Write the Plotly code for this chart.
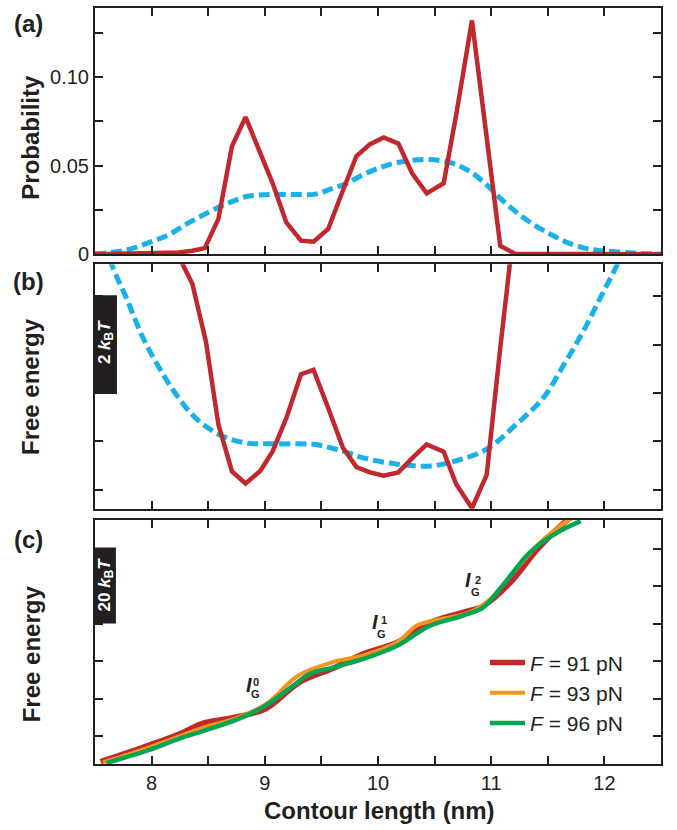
import plotly.graph_objects as go

# ---------------- data ----------------
# (a) probability
x_prob_red = [7.5, 8.12, 8.24, 8.36, 8.47, 8.59, 8.71, 8.83, 8.95, 9.07, 9.19, 9.32, 9.43, 9.56,
              9.69, 9.81, 9.93, 10.05, 10.18, 10.30, 10.43, 10.58, 10.69, 10.83, 10.96, 11.08,
              11.21, 12.5]
y_prob_red = [0.0, 0.0005, 0.001, 0.002, 0.0035, 0.020, 0.061, 0.0774, 0.058, 0.040, 0.018, 0.0077,
              0.0071, 0.0143, 0.036, 0.0555, 0.0622, 0.066, 0.0625, 0.0459, 0.0344, 0.0401, 0.0784,
              0.132, 0.066, 0.0048, 0.0004, 0.0]

x_prob_blue = [7.5, 7.75, 7.98, 8.15, 8.31, 8.45, 8.6, 8.72, 8.83, 8.95, 9.06, 9.25, 9.45, 9.58,
               9.72, 9.87, 10.02, 10.16, 10.3, 10.43, 10.56, 10.69, 10.83, 10.96, 11.09, 11.22,
               11.37, 11.52, 11.66, 11.81, 11.95, 12.1, 12.3, 12.5]
y_prob_blue = [0.0003, 0.002, 0.0067, 0.011, 0.0172, 0.022, 0.0268, 0.030, 0.0325, 0.0335, 0.0338,
               0.0338, 0.0340, 0.0368, 0.040, 0.045, 0.049, 0.0516, 0.053, 0.0535, 0.0528, 0.0507,
               0.046, 0.0392, 0.031, 0.0239, 0.017, 0.0115, 0.007, 0.0038, 0.0022, 0.0015, 0.0005,
               0.0002]

# (b) free energy (kBT)
x_fe_red = [8.12, 8.24, 8.36, 8.48, 8.59, 8.71, 8.83, 8.96, 9.07, 9.19, 9.32, 9.43, 9.56, 9.69,
            9.81, 9.93, 10.05, 10.18, 10.30, 10.43, 10.58, 10.69, 10.83, 10.96, 11.08, 11.21]
y_fe_red = [6.2, 4.82, 4.26, 3.06, 1.35, 0.38, 0.13, 0.39, 0.80, 1.48, 2.39, 2.48, 1.69, 0.87,
            0.47, 0.36, 0.29, 0.36, 0.65, 0.94, 0.79, 0.12, -0.38, 0.31, 2.93, 5.6]

x_fe_blue = [7.55, 7.65, 7.78, 7.92, 8.07, 8.22, 8.39, 8.6, 8.83, 9.07, 9.43, 9.58, 9.72, 9.87,
             10.17, 10.46, 10.69, 10.96, 11.22, 11.46, 11.64, 11.81, 11.96, 12.11, 12.25]
y_fe_blue = [5.4, 4.64, 3.95, 3.16, 2.51, 1.96, 1.48, 1.14, 0.97, 0.95, 0.94, 0.87, 0.78, 0.66,
             0.53, 0.49, 0.60, 0.84, 1.35, 1.90, 2.58, 3.26, 3.95, 4.64, 5.4]

# (c) free-energy profiles at three forces
x_c91 = [7.55, 7.98, 8.25, 8.45, 8.72, 9.01, 9.31, 9.60, 9.87, 10.17, 10.46, 10.75, 10.93, 11.17,
         11.41, 11.64, 11.72]
y_c91 = [-6.8, -2.4, 0.6, 3.4, 4.9, 7.3, 14.4, 18.0, 21.9, 25.0, 30.3, 33.0, 34.7, 40.9, 49.8,
         56.8, 58.5]

x_c93 = [7.57, 7.98, 8.25, 8.48, 8.75, 9.01, 9.30, 9.60, 9.87, 10.17, 10.34, 10.49, 10.81, 10.99,
         11.22, 11.46, 11.70]
y_c93 = [-7.0, -3.0, 0.0, 2.5, 4.8, 8.5, 16.2, 19.7, 21.5, 25.0, 29.4, 30.8, 33.0, 36.5, 44.5,
         52.4, 58.0]

x_c96 = [7.60, 7.98, 8.25, 8.48, 8.78, 9.01, 9.22, 9.40, 9.62, 9.87, 10.17, 10.46, 10.75, 10.93,
         11.10, 11.34, 11.58, 11.79]
y_c96 = [-7.2, -3.7, -0.6, 1.6, 4.7, 8.2, 12.7, 16.6, 18.4, 20.6, 24.1, 29.4, 32.1, 34.3, 40.1,
         48.9, 54.2, 57.3]

legend_names = ["<i>F</i> = 91 pN", "<i>F</i> = 93 pN", "<i>F</i> = 96 pN"]

x_ticks = [8, 9, 10, 11, 12]
x_ticktext = ["8", "9", "10", "11", "12"]
x_minor = [8.5, 9.5, 10.5, 11.5]
ya_ticks = [0, 0.05, 0.10]
ya_ticktext = ["0", "0.05", "0.10"]
ya_minor = [0.025, 0.075, 0.125]
yb_ticks = [0, 1, 2, 3, 4]
yc_ticks = [0, 10, 20, 30, 40, 50]

# ---------------- style ----------------
INK = "#231f20"
RED = "#c1272d"
BLUE = "#1ab0ea"
ORANGE = "#f7941d"
GREEN = "#00a651"
FONT = "Liberation Sans, Arial, Helvetica, sans-serif"

W, H = 677, 830
PL, PR, PT, PB = 95, 661, 6, 764


def px(x):
    return (x - PL) / (PR - PL)


def py(y):
    return (PB - y) / (PB - PT)


fig = go.Figure()

dash = "11px,5px"
# panel a
fig.add_trace(go.Scatter(x=x_prob_blue, y=y_prob_blue, xaxis="x", yaxis="y", mode="lines",
                         line=dict(color=BLUE, width=5, dash=dash, shape="spline"), showlegend=False))
fig.add_trace(go.Scatter(x=x_prob_red, y=y_prob_red, xaxis="x", yaxis="y", mode="lines",
                         line=dict(color=RED, width=4.5), showlegend=False))
# panel b
fig.add_trace(go.Scatter(x=x_fe_blue, y=y_fe_blue, xaxis="x2", yaxis="y2", mode="lines",
                         line=dict(color=BLUE, width=5, dash=dash, shape="spline"), showlegend=False))
fig.add_trace(go.Scatter(x=x_fe_red, y=y_fe_red, xaxis="x2", yaxis="y2", mode="lines",
                         line=dict(color=RED, width=4.5), showlegend=False))
# panel c
fig.add_trace(go.Scatter(x=x_c91, y=y_c91, xaxis="x3", yaxis="y3", mode="lines", name=legend_names[0],
                         line=dict(color=RED, width=5.5, shape="spline")))
fig.add_trace(go.Scatter(x=x_c93, y=y_c93, xaxis="x3", yaxis="y3", mode="lines", name=legend_names[1],
                         line=dict(color=ORANGE, width=4, shape="spline")))
fig.add_trace(go.Scatter(x=x_c96, y=y_c96, xaxis="x3", yaxis="y3", mode="lines", name=legend_names[2],
                         line=dict(color=GREEN, width=4.5, shape="spline")))

common = dict(showline=True, linewidth=2, linecolor=INK, mirror="ticks", ticks="inside",
              ticklen=8, tickwidth=2, tickcolor=INK, showgrid=False, zeroline=False,
              tickfont=dict(family=FONT, size=20, color=INK))


def minor(vals):
    return dict(tickmode="array", tickvals=vals, ticks="inside", ticklen=8, tickwidth=2,
                tickcolor=INK, showgrid=False)


dom_a = [py(253), 1.0]
dom_b = [py(508), py(263)]
dom_c = [0.0, py(519)]

fig.update_layout(
    width=W, height=H, autosize=False,
    margin=dict(l=PL, r=W - PR, t=PT, b=H - PB, pad=0),
    paper_bgcolor="white", plot_bgcolor="white",
    font=dict(family=FONT, color=INK),
    xaxis=dict(domain=[0, 1], range=[7.5, 12.5], anchor="y", tickvals=x_ticks,
               showticklabels=False, minor=minor(x_minor), **common),
    yaxis=dict(domain=dom_a, range=[0, 0.139], anchor="x", tickvals=ya_ticks,
               ticktext=ya_ticktext, minor=minor(ya_minor), **common),
    xaxis2=dict(domain=[0, 1], range=[7.5, 12.5], anchor="y2", tickvals=x_ticks,
                showticklabels=False, minor=minor(x_minor), **common),
    yaxis2=dict(domain=dom_b, range=[-0.39, 4.66], anchor="x2", tickvals=yb_ticks,
                showticklabels=False, **common),
    xaxis3=dict(domain=[0, 1], range=[7.5, 12.5], anchor="y3", tickvals=x_ticks,
                ticktext=x_ticktext, minor=minor(x_minor), **common),
    yaxis3=dict(domain=dom_c, range=[-7.45, 57.7], anchor="x3", tickvals=yc_ticks,
                showticklabels=False, **common),
    legend=dict(x=px(485), y=py(642), xanchor="left", yanchor="top",
                font=dict(family=FONT, size=21, color=INK), bgcolor="rgba(0,0,0,0)",
                itemwidth=35, tracegroupgap=0),
)

# scale bars
fig.add_shape(type="rect", xref="x2", yref="y2", x0=7.5, x1=7.694, y0=1.98, y1=4.02,
              fillcolor=INK, line=dict(width=0), layer="above")
fig.add_shape(type="rect", xref="x3", yref="y3", x0=7.5, x1=7.685, y0=30.0, y1=50.3,
              fillcolor=INK, line=dict(width=0), layer="above")


def ann(text, xp, yp, size, angle=0, color=INK, xanchor="center"):
    fig.add_annotation(text=text, x=px(xp), y=py(yp), xref="paper", yref="paper",
                       showarrow=False, textangle=angle, xanchor=xanchor, yanchor="middle",
                       font=dict(family=FONT, size=size, color=color))


ann("<b>2 <i>k</i><sub>B</sub><i>T</i></b>", 106, 341, 17, angle=-90, color="white")
ann("<b>20 <i>k</i><sub>B</sub><i>T</i></b>", 106, 584, 17, angle=-90, color="white")

ann("<b>(a)</b>", 28, 22, 24)
ann("<b>(b)</b>", 28, 280, 24)
ann("<b>(c)</b>", 28, 539, 24)

ann("<b>Probability</b>", 31, 136, 24, angle=-90)
ann("<b>Free energy</b>", 31, 386, 24, angle=-90)
ann("<b>Free energy</b>", 31, 654, 24, angle=-90)
ann("<b>Contour length (nm)</b>", 379, 811, 24)

# intermediate labels
for (ix, iy, sx, sy, gx, gy, s) in [(248.5, 685, 256, 682, 255, 694, "0"),
                                     (374.5, 622, 384, 620, 381, 634, "1"),
                                     (468, 580, 478, 580, 475, 592, "2")]:
    ann("<b><i>I</i></b>", ix, iy, 20)
    ann("<b>" + s + "</b>", sx, sy, 11)
    ann("<b>G</b>", gx, gy, 11)

fig.write_html("out.html", config={"displayModeBar": False},
               post_script="document.body.style.margin='0';document.body.style.padding='0';")
